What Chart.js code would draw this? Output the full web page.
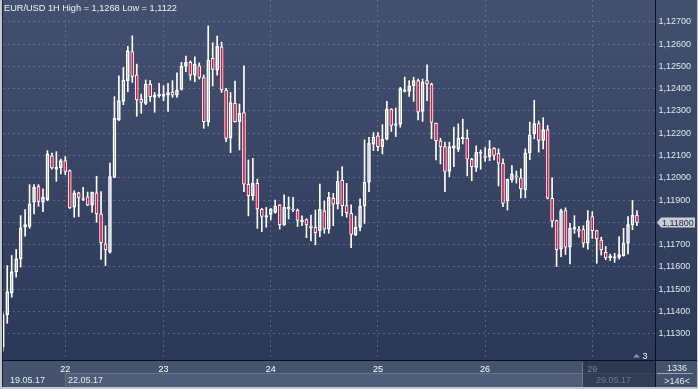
<!DOCTYPE html>
<html>
<head>
<meta charset="utf-8">
<script src="https://cdn.jsdelivr.net/npm/chart.js@4.4.0/dist/chart.umd.min.js"></script>
<style>
  html, body { margin: 0; padding: 0; background: #2d3959; }
  canvas { display: block; }
</style>
</head>
<body>
<canvas id="chart" width="698" height="389"></canvas>
<script>
// EUR/USD 1H candles, 19.05.17 - 29.05.17 (index 13 = 22.05 00:00)
const firstIndex = -1;

const open = [
  1.11240,
  1.11385, 1.11482, 1.11578, 1.11636, 1.11778, 1.11782, 1.11890, 1.11960, 1.11890, 1.11902,
  1.12099, 1.12039, 1.12044, 1.12077, 1.12032, 1.11868, 1.11932, 1.11903, 1.11915, 1.11877,
  1.11932, 1.11838, 1.11703, 1.11666, 1.12002, 1.12261, 1.12343, 1.12436, 1.12566, 1.12462,
  1.12353, 1.12334, 1.12421, 1.12362, 1.12368, 1.12365, 1.12371, 1.12385, 1.12371, 1.12397,
  1.12501, 1.12518, 1.12461, 1.12503, 1.12450, 1.12252, 1.12536, 1.12483, 1.12588, 1.12394,
  1.12180, 1.12334, 1.12252, 1.12293, 1.11971, 1.11920, 1.11975, 1.11858, 1.11823, 1.11836,
  1.11845, 1.11878, 1.11788, 1.11860, 1.11860, 1.11855, 1.11803, 1.11812, 1.11784, 1.11778,
  1.11763, 1.11852, 1.11769, 1.11908, 1.11882, 1.11990, 1.11875, 1.11840, 1.11743, 1.11777,
  1.11873, 1.11980, 1.12151, 1.12188, 1.12140, 1.12173, 1.12308, 1.12235, 1.12241, 1.12388,
  1.12388, 1.12413, 1.12436, 1.12298, 1.12436, 1.12421, 1.12245, 1.12166, 1.12140, 1.12028,
  1.12133, 1.12128, 1.12175, 1.12178, 1.12083, 1.12046, 1.12109, 1.12098, 1.12095, 1.12133,
  1.12110, 1.12065, 1.11896, 1.11991, 1.12009, 1.12000, 1.11946, 1.12112, 1.12198, 1.12243,
  1.12168, 1.12216, 1.11908, 1.11808, 1.11680, 1.11853, 1.11688, 1.11769, 1.11767, 1.11767,
  1.11706, 1.11826, 1.11763, 1.11721, 1.11665, 1.11640, 1.11640, 1.11643, 1.11650, 1.11706,
  1.11788, 1.11833
];
const high = [
  1.11395,
  1.11606, 1.11651, 1.11678, 1.11830, 1.11857, 1.11969, 1.11969, 1.11969, 1.11950, 1.12122,
  1.12111, 1.12117, 1.12084, 1.12095, 1.12035, 1.11942, 1.11935, 1.11957, 1.11936, 1.11936,
  1.12007, 1.11938, 1.11785, 1.12066, 1.12364, 1.12458, 1.12495, 1.12590, 1.12637, 1.12510,
  1.12376, 1.12439, 1.12436, 1.12383, 1.12424, 1.12413, 1.12424, 1.12436, 1.12471, 1.12518,
  1.12546, 1.12525, 1.12543, 1.12516, 1.12461, 1.12682, 1.12606, 1.12636, 1.12609, 1.12401,
  1.12383, 1.12434, 1.12331, 1.12503, 1.12080, 1.12087, 1.11994, 1.11863, 1.11867, 1.11863,
  1.11900, 1.11880, 1.11923, 1.11914, 1.11912, 1.11860, 1.11829, 1.11816, 1.11833, 1.11855,
  1.11972, 1.11896, 1.11935, 1.11930, 1.12030, 1.12050, 1.11975, 1.11878, 1.11828, 1.11905,
  1.12170, 1.12181, 1.12203, 1.12203, 1.12238, 1.12343, 1.12310, 1.12313, 1.12406, 1.12452,
  1.12436, 1.12452, 1.12443, 1.12443, 1.12507, 1.12425, 1.12245, 1.12178, 1.12160, 1.12160,
  1.12227, 1.12242, 1.12263, 1.12215, 1.12088, 1.12143, 1.12125, 1.12136, 1.12167, 1.12136,
  1.12130, 1.12085, 1.11995, 1.12055, 1.12030, 1.12040, 1.12130, 1.12250, 1.12348, 1.12255,
  1.12270, 1.12235, 1.12000, 1.11810, 1.11860, 1.11865, 1.11796, 1.11830, 1.11782, 1.11785,
  1.11853, 1.11848, 1.11765, 1.11733, 1.11692, 1.11658, 1.11661, 1.11736, 1.11773, 1.11826,
  1.11898, 1.11853
];
const low = [
  1.11222,
  1.11347, 1.11464, 1.11554, 1.11599, 1.11738, 1.11773, 1.11838, 1.11872, 1.11848, 1.11897,
  1.12039, 1.11984, 1.12017, 1.12014, 1.11862, 1.11823, 1.11826, 1.11897, 1.11875, 1.11845,
  1.11800, 1.11633, 1.11606, 1.11661, 1.12000, 1.12256, 1.12328, 1.12386, 1.12428, 1.12276,
  1.12289, 1.12328, 1.12343, 1.12294, 1.12361, 1.12346, 1.12298, 1.12361, 1.12361, 1.12394,
  1.12476, 1.12438, 1.12431, 1.12443, 1.12222, 1.12232, 1.12412, 1.12461, 1.12383, 1.12162,
  1.12113, 1.12250, 1.12125, 1.11938, 1.11829, 1.11900, 1.11773, 1.11758, 1.11778, 1.11811,
  1.11841, 1.11770, 1.11785, 1.11815, 1.11848, 1.11781, 1.11785, 1.11731, 1.11716, 1.11699,
  1.11736, 1.11751, 1.11751, 1.11785, 1.11860, 1.11829, 1.11823, 1.11686, 1.11740, 1.11761,
  1.11795, 1.11938, 1.12122, 1.12122, 1.12107, 1.12170, 1.12208, 1.12185, 1.12227, 1.12385,
  1.12365, 1.12343, 1.12260, 1.12253, 1.12346, 1.12175, 1.12080, 1.12062, 1.11938, 1.12005,
  1.12050, 1.12118, 1.12152, 1.12008, 1.11987, 1.12028, 1.12038, 1.12073, 1.12077, 1.12080,
  1.11963, 1.11870, 1.11855, 1.11980, 1.11976, 1.11910, 1.11910, 1.12081, 1.12175, 1.12115,
  1.12130, 1.11905, 1.11778, 1.11602, 1.11646, 1.11655, 1.11613, 1.11751, 1.11733, 1.11688,
  1.11680, 1.11728, 1.11616, 1.11653, 1.11632, 1.11628, 1.11620, 1.11635, 1.11648, 1.11658,
  1.11767, 1.11785
];
const close = [
  1.11385,
  1.11489, 1.11579, 1.11636, 1.11775, 1.11790, 1.11883, 1.11957, 1.11894, 1.11912, 1.12107,
  1.12044, 1.12047, 1.12077, 1.12029, 1.11865, 1.11932, 1.11912, 1.11907, 1.11877, 1.11936,
  1.11838, 1.11708, 1.11676, 1.12005, 1.12268, 1.12346, 1.12439, 1.12570, 1.12455, 1.12349,
  1.12338, 1.12421, 1.12364, 1.12371, 1.12376, 1.12376, 1.12382, 1.12371, 1.12394, 1.12501,
  1.12518, 1.12461, 1.12510, 1.12450, 1.12252, 1.12528, 1.12486, 1.12591, 1.12394, 1.12177,
  1.12338, 1.12252, 1.12289, 1.11971, 1.11920, 1.11975, 1.11860, 1.11826, 1.11830, 1.11860,
  1.11873, 1.11788, 1.11867, 1.11867, 1.11856, 1.11808, 1.11811, 1.11788, 1.11776, 1.11754,
  1.11858, 1.11769, 1.11912, 1.11882, 1.11984, 1.11875, 1.11843, 1.11746, 1.11777, 1.11873,
  1.11980, 1.12155, 1.12182, 1.12140, 1.12173, 1.12308, 1.12235, 1.12242, 1.12400, 1.12395,
  1.12413, 1.12436, 1.12295, 1.12430, 1.12421, 1.12248, 1.12167, 1.12140, 1.12028, 1.12140,
  1.12143, 1.12178, 1.12182, 1.12083, 1.12050, 1.12115, 1.12115, 1.12091, 1.12130, 1.12100,
  1.12065, 1.11885, 1.11993, 1.12018, 1.12004, 1.11950, 1.12112, 1.12193, 1.12243, 1.12168,
  1.12216, 1.11908, 1.11805, 1.11676, 1.11853, 1.11688, 1.11773, 1.11778, 1.11760, 1.11706,
  1.11808, 1.11763, 1.11725, 1.11676, 1.11640, 1.11650, 1.11645, 1.11655, 1.11707, 1.11790,
  1.11833, 1.11800
];

const dayTicks = [13, 35, 59, 83, 107, 131];
const dayLabels = ['22', '23', '24', '25', '26', '29'];
const dateLabels = ['19.05.17', '22.05.17', '29.05.17'];
const priceTicks = [1.113, 1.114, 1.115, 1.116, 1.117, 1.118, 1.119, 1.120,
                    1.121, 1.122, 1.123, 1.124, 1.125, 1.126, 1.127];
const titleText = 'EUR/USD 1H High = 1,1268 Low = 1,1122';
const infoTop = '1336';
const infoBottom = '>146<';
const markerText = '3';

const FONT = '"Liberation Sans", Arial, sans-serif';
const RED = '#e5163f';
const GRID = 'rgba(150,165,195,0.38)';

// --- candle pieces as floating bars ---
const idx = open.map((_, i) => firstIndex + i);
const bodies = idx.map((x, i) => ({ x, y: [Math.min(open[i], close[i]), Math.max(open[i], close[i])] }));
const upperWicks = idx.map((x, i) => ({ x, y: [Math.max(open[i], close[i]), high[i]] }));
const lowerWicks = idx.map((x, i) => ({ x, y: [low[i], Math.min(open[i], close[i])] }));
const bodyFill = idx.map((_, i) => close[i] < open[i] ? RED : 'rgba(0,0,0,0)');

function fmt(v, d) { return v.toFixed(d).replace('.', ','); }

const frame = {
  id: 'frame',
  beforeDraw(chart) {
    const c = chart.ctx, a = chart.chartArea;
    const g = c.createLinearGradient(0, 0, 0, a.bottom);
    g.addColorStop(0, '#435070');
    g.addColorStop(1, '#2c3858');
    c.save();
    c.fillStyle = g;
    c.fillRect(0, 0, chart.width, a.bottom);
    c.fillStyle = '#46536e';
    c.fillRect(0, a.bottom, chart.width, chart.height - a.bottom);
    // date row panel
    const x22 = Math.round(chart.scales.x.getPixelForValue(dayTicks[0]));
    c.fillStyle = '#505d78';
    c.fillRect(x22, 374, a.right - x22, 13);
    c.fillStyle = '#68748d';
    c.fillRect(x22, 373, a.right - x22, 1);
    c.fillRect(x22, 373, 1, 14);
    c.restore();
  },
  afterDraw(chart) {
    const c = chart.ctx, a = chart.chartArea;
    const xs = chart.scales.x, ys = chart.scales.y;
    c.save();
    c.textAlign = 'left';
    c.textBaseline = 'alphabetic';

    // title
    c.font = '9.2px ' + FONT;
    c.fillStyle = '#eef1f6';
    c.fillText(titleText, 4, 11);

    // bar counter marker
    c.fillStyle = '#8a94a8';
    c.beginPath();
    c.moveTo(633, 357.5); c.lineTo(636.5, 354); c.lineTo(640, 357.5); c.closePath();
    c.fill();
    c.font = '9px ' + FONT;
    c.fillStyle = '#eef1f6';
    c.fillText(markerText, 642.5, 358.5);

    // date row
    c.fillStyle = '#e6eaf0';
    c.fillText(dateLabels[0], 10, 383);
    c.fillText(dateLabels[1], Math.round(xs.getPixelForValue(dayTicks[0])) + 3, 383);
    c.fillText(dateLabels[2], Math.round(xs.getPixelForValue(dayTicks[5])) + 4, 383);

    // scroll overlay over the last day
    c.fillStyle = 'rgba(30,40,64,0.62)';
    c.fillRect(582, a.bottom + 1, a.right - 582, 26);
    c.fillStyle = '#6e7990';
    c.fillRect(582, 362, 1, 25);

    // info box
    c.fillStyle = '#45526d';
    c.fillRect(a.right + 1, a.bottom + 1, chart.width - a.right - 1, 26);
    c.fillStyle = '#e6eaf0';
    c.textAlign = 'center';
    c.fillText(infoTop, 677, 370.5);
    c.fillText(infoBottom, 677, 384);
    c.fillStyle = '#9aa4b8';
    c.fillRect(657, 373, 36, 1);

    // last price tag
    const last = close[close.length - 1];
    const yt = Math.round(ys.getPixelForValue(last)) + 0.5;
    c.fillStyle = '#c8cdd7';
    c.beginPath();
    c.moveTo(657, yt);
    c.lineTo(661, yt - 5);
    c.lineTo(695, yt - 5);
    c.lineTo(695, yt + 5);
    c.lineTo(661, yt + 5);
    c.closePath();
    c.fill();
    c.fillStyle = '#1c2436';
    c.textAlign = 'left';
    c.fillText(fmt(last, 5), 662, yt + 3.5);

    // separators and frame
    c.fillStyle = '#0c111c';
    c.fillRect(0, a.bottom, chart.width, 1);
    c.fillRect(a.right, 0, 1, 387);
    c.fillStyle = '#c2c6ce';
    c.fillRect(0, 387, chart.width, 2);
    c.fillRect(0, 0, 2, chart.height);
    c.fillRect(chart.width - 1, 0, 1, chart.height);
    c.fillStyle = '#1a2132';
    c.fillRect(2, 0, 1, 387);
    c.restore();
  }
};

const ctx = document.getElementById('chart').getContext('2d');
new Chart(ctx, {
  type: 'bar',
  data: {
    datasets: [
      { data: upperWicks, backgroundColor: '#ffffff', barThickness: 1, grouped: false, clip: 0 },
      { data: lowerWicks, backgroundColor: '#ffffff', barThickness: 1, grouped: false, clip: 0 },
      {
        data: bodies,
        backgroundColor: bodyFill,
        borderColor: '#ffffff',
        borderWidth: 1,
        borderSkipped: false,
        barThickness: 3,
        grouped: false,
        clip: 0
      }
    ]
  },
  options: {
    responsive: false,
    animation: false,
    layout: { padding: { left: 3, top: 0, right: 0, bottom: 0 } },
    plugins: {
      legend: { display: false },
      tooltip: { enabled: false },
      title: { display: false }
    },
    scales: {
      x: {
        type: 'linear',
        offset: false,
        min: -0.95,
        max: 145.04,
        grid: { color: GRID, drawTicks: false, offset: false },
        border: { display: false, dash: [2, 3] },
        ticks: {
          autoSkip: false,
          maxRotation: 0,
          padding: 4,
          color: '#ffffff',
          font: { family: FONT, size: 9 },
          callback: (v, i) => dayLabels[i]
        },
        afterBuildTicks: s => { s.ticks = dayTicks.map(v => ({ value: v })); },
        afterFit: s => { s.height = 29; s.paddingLeft = 0; s.paddingRight = 0; }
      },
      y: {
        position: 'right',
        min: 1.11182,
        max: 1.12798,
        grid: { color: GRID, drawTicks: false },
        border: { display: false, dash: [2, 3] },
        ticks: {
          padding: 3.5,
          color: '#dfe5ee',
          font: { family: FONT, size: 9 },
          callback: v => Math.abs(v - close[close.length - 1]) < 0.0004 ? '' : fmt(v, 5)
        },
        afterBuildTicks: s => { s.ticks = priceTicks.map(v => ({ value: v })); },
        afterFit: s => { s.width = 43; s.paddingTop = 0; s.paddingBottom = 0; }
      }
    }
  },
  plugins: [frame]
});
</script>
</body>
</html>
